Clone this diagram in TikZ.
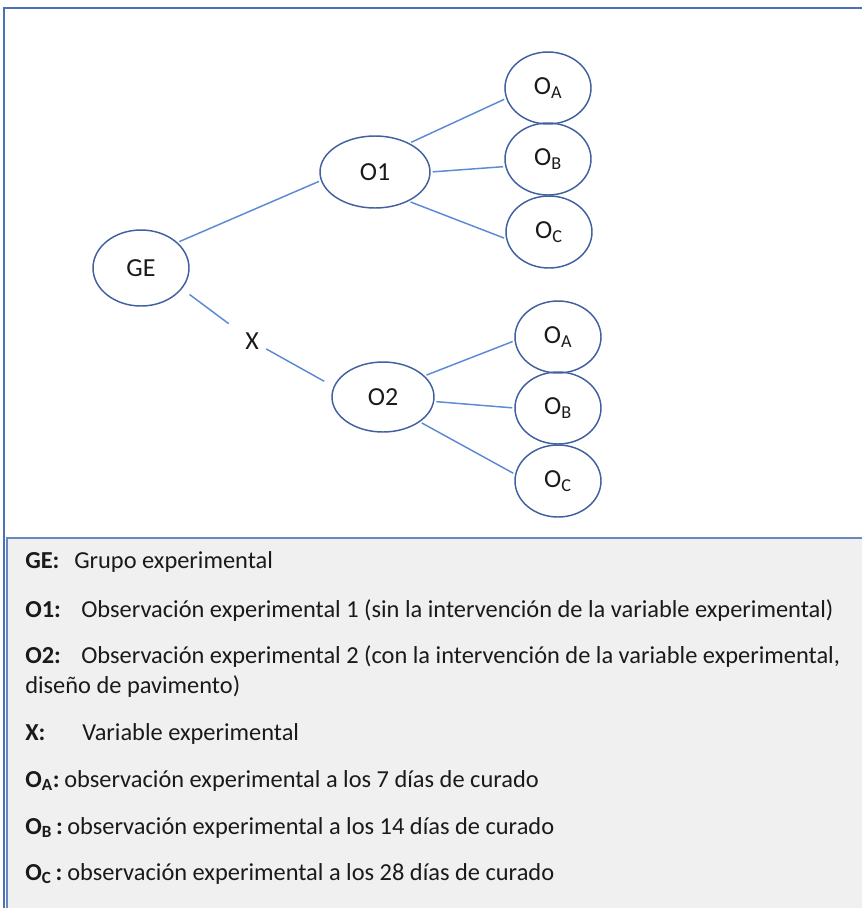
\documentclass[tikz,border=0pt]{standalone}
\usepackage{fontspec}
\setmainfont{Carlito}
\usetikzlibrary{shapes.geometric}
\definecolor{frameblue}{HTML}{4A70B8}
\definecolor{boxblue}{HTML}{6A88C0}
\definecolor{boxgray}{HTML}{F0F0F0}
\definecolor{ellblue}{HTML}{41609F}
\definecolor{linkblue}{HTML}{5B8AD6}
\definecolor{inktext}{HTML}{1A1A1A}
\tikzset{
	obs/.style={ellipse, draw=ellblue, line width=1.1pt, minimum width=64.5pt, minimum height=54pt, inner sep=0pt, text=inktext, font=\fontsize{19.5}{23}\selectfont},
	link/.style={draw=linkblue, line width=1.1pt, shorten <=1.5pt, shorten >=1.5pt},
	legend/.style={anchor=base west, inner sep=0pt, text=inktext, font=\fontsize{18.3}{22}\selectfont},
}

\begin{document}
\begin{tikzpicture}[x=0.75pt, y=-0.75pt]
			%%%%% START %%%%%
			
			\useasboundingbox (0, 0) rectangle (862, 908);
			
			\draw[frameblue, line width=1.5pt] (4, 908) -- (4, 8) -- (862, 8);
			\fill[boxgray] (7, 538) rectangle (862, 908);
			\draw[boxblue, line width=1.5pt] (7, 908) -- (7, 538) -- (862, 538);
			
			\node[obs, minimum width=72pt, minimum height=57pt] (ge) at (141, 268) {GE};
			\node[obs, minimum width=82.5pt] (o1) at (375, 172) {O1};
			\node[obs, minimum width=76.5pt, minimum height=52.5pt] (o2) at (383, 397) {O2};
			
			\node[obs] (oa1) at (548, 88) {O\textsubscript{A}};
			\node[obs] (ob1) at (548, 159) {O\textsubscript{B}};
			\node[obs] (oc1) at (549, 232) {O\textsubscript{C}};
			
			\node[obs] (oa2) at (558, 337) {O\textsubscript{A}};
			\node[obs] (ob2) at (558, 408) {O\textsubscript{B}};
			\node[obs] (oc2) at (558, 481) {O\textsubscript{C}};
			
			\node[circle, inner sep=0pt, minimum size=21pt, text=inktext, font=\fontsize{19.5}{23}\selectfont] (x) at (252, 341) {X};
			
			\draw[link] (ge.35) -- (o1.189);
			\draw[link, shorten <=7pt, shorten >=11pt] (ge.333) -- (x);
			\draw[link, shorten >=8pt] (x) -- (o2.168);
			
			\draw[link] (o1.40) -- (oa1.194);
			\draw[link] (o1.0) -- (ob1.190);
			\draw[link] (o1.319) -- (oc1.189);
			
			\draw[link] (o2.27) -- (oa2.185);
			\draw[link] (o2.355) -- (ob2.180);
			\draw[link] (o2.326) -- (oc2.171);
			
			% legend
			\node[legend] (lgge) at (25, 568) {\textbf{GE:}};
			\node[legend] (txge) at (74, 568) {Grupo experimental};
			\node[legend] (lgo1) at (25, 617) {\textbf{O1:}};
			\node[legend] (txo1) at (81, 617) {Observación experimental 1 (sin la intervención de la variable experimental)};
			\node[legend] (lgo2) at (25, 663) {\textbf{O2:}};
			\node[legend] (txo2) at (81, 663) {Observación experimental 2 (con la intervención de la variable experimental,};
			\node[legend] (txo2b) at (25, 693) {diseño de pavimento)};
			\node[legend] (lgx) at (25, 740) {\textbf{X:}};
			\node[legend] (txx) at (82, 740) {Variable experimental};
			\node[legend] (lgoa) at (25, 787) {\textbf{O\textsubscript{A}:}};
			\node[legend] (txoa) at (64, 787) {observación experimental a los 7 días de curado};
			\node[legend] (lgob) at (25, 834) {\textbf{O\textsubscript{B}\,:}};
			\node[legend] (txob) at (67, 834) {observación experimental a los 14 días de curado};
			\node[legend] (lgoc) at (25, 880) {\textbf{O\textsubscript{C}\,:}};
			\node[legend] (txoc) at (67, 880) {observación experimental a los 28 días de curado};
			
			%%%%% END %%%%%
\end{tikzpicture}
\end{document}
